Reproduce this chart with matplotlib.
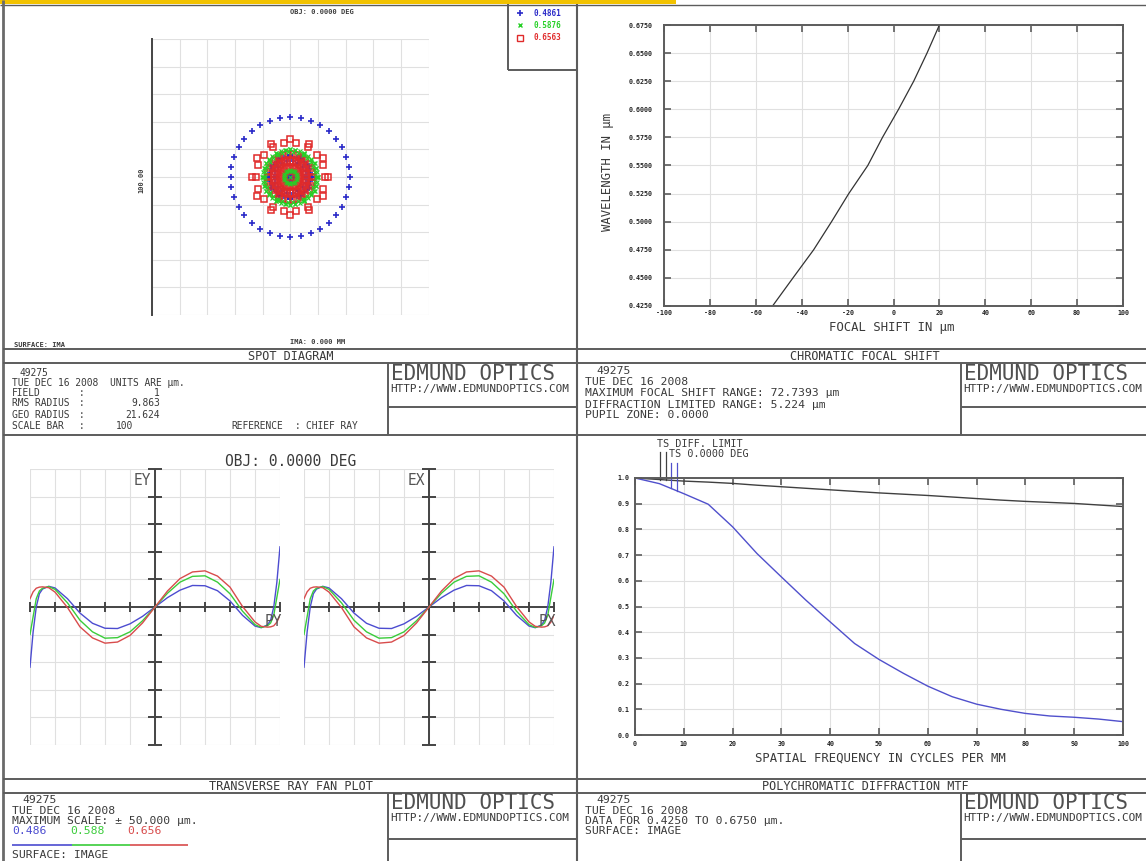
import matplotlib
matplotlib.use('Agg')
import matplotlib.pyplot as plt
import numpy as np
from matplotlib.patches import Rectangle

W, H = 1146, 861
MONO = 'DejaVu Sans Mono'
INK = '#3a3a3a'
FRAME = '#5c5c5c'
GRID = '#e0e0e0'
BLUE, GREEN, RED = '#2a2ac8', '#26d026', '#e02a2a'
FAN_BLUE, FAN_GREEN, FAN_RED = '#4c4cd0', '#3acc3a', '#d84c4c'

# --- spot diagram: radius (um) of each hexapolar ring, ring k carries 6k rays
spot_rings = [1, 2, 3, 4, 5, 6]
spot_r_486 = [5.2, 7.9, 5.9, 1.0, 7.4, 21.6]
spot_r_588 = [9.6, 10.2, 9.8, 2.4, 9.2, 10.0]
spot_r_656 = [8.0, 13.8, 12.5, 3.2, 8.2, 5.8]
spot_waves = ['0.4861', '0.5876', '0.6563']

# --- chromatic focal shift
wavelength = [0.425, 0.450, 0.475, 0.500, 0.525, 0.550, 0.575, 0.600, 0.625, 0.650, 0.675]
focal_shift = [-52.7, -43.8, -34.8, -27.0, -19.5, -11.2, -4.8, 2.2, 8.8, 14.6, 20.0]
chrom_xticks = [-100, -80, -60, -40, -20, 0, 20, 40, 60, 80, 100]
chrom_yticks = [0.425, 0.45, 0.475, 0.5, 0.525, 0.55, 0.575, 0.6, 0.625, 0.65, 0.675]

# --- transverse ray fan (um), same for EY and EX on axis
pupil = [-1.0, -0.975, -0.95, -0.925, -0.9, -0.85, -0.8, -0.7, -0.6, -0.5, -0.4, -0.3, -0.2, -0.1, 0.0,
         0.1, 0.2, 0.3, 0.4, 0.5, 0.6, 0.7, 0.8, 0.85, 0.9, 0.925, 0.95, 0.975, 1.0]
fan_486 = [-21.8, -9.0, 0.0, 4.8, 6.5, 7.5, 6.9, 3.0, -2.2, -5.9, -7.7, -7.8, -6.1, -3.4, 0.0,
           3.4, 6.1, 7.8, 7.7, 5.9, 2.2, -3.0, -6.9, -7.5, -6.5, -4.8, 0.0, 9.0, 21.8]
fan_588 = [-10.0, -3.5, 3.0, 5.8, 6.8, 7.4, 6.4, 1.5, -4.8, -9.0, -11.3, -11.1, -9.0, -5.0, 0.0,
           5.0, 9.0, 11.1, 11.3, 9.0, 4.8, -1.5, -6.4, -7.4, -6.8, -5.8, -3.0, 3.5, 10.0]
fan_656 = [3.0, 5.5, 6.8, 7.2, 7.3, 7.0, 5.4, -0.2, -7.2, -11.2, -13.1, -12.7, -10.3, -5.8, 0.0,
           5.8, 10.3, 12.7, 13.1, 11.2, 7.2, 0.2, -5.4, -7.0, -7.3, -7.2, -6.8, -5.5, -3.0]
fan_labels = ['0.486', '0.588', '0.656']

# --- polychromatic MTF
mtf_freq = [0, 5, 10, 15, 20, 25, 30, 35, 40, 45, 50, 55, 60, 65, 70, 75, 80, 85, 90, 95, 100]
mtf_diff = [1.0, 0.994, 0.988, 0.984, 0.979, 0.972, 0.966, 0.960, 0.954, 0.948, 0.942,
            0.937, 0.932, 0.926, 0.920, 0.914, 0.909, 0.905, 0.901, 0.895, 0.889]
mtf_ts = [1.0, 0.978, 0.939, 0.898, 0.81, 0.706, 0.615, 0.525, 0.44, 0.356, 0.294,
          0.24, 0.19, 0.149, 0.120, 0.10, 0.084, 0.074, 0.069, 0.062, 0.052]


def rect(x0, y0, x1, y1):
    return [x0 / W, 1 - y1 / H, (x1 - x0) / W, (y1 - y0) / H]


fig = plt.figure(figsize=(W / 100, H / 100), dpi=100)
fig.patch.set_facecolor('white')
cv = fig.add_axes([0, 0, 1, 1])
cv.set_xlim(0, W)
cv.set_ylim(H, 0)
cv.axis('off')


def line(xs, ys, color=FRAME, lw=1.4):
    cv.plot(xs, ys, color=color, lw=lw, solid_capstyle='butt')


def txt(x, y, s, size=8.2, color=INK, ha='left', **kw):
    cv.text(x, y, s, fontsize=size, family=MONO, color=color, ha=ha, va='center', **kw)


# frame
cv.add_patch(Rectangle((0, 0), 676, 3.5, color='#f2c200', lw=0))
line([0, W], [4.5, 4.5], lw=1.0)
line([3, 3], [0, H], color='#6a6a6a', lw=2.0)
line([577, 577], [4, H], lw=1.5)
for y in (349, 363, 435, 779, 793):
    line([3, W], [y, y])
for x in (388, 961):
    line([x, x], [363, 435])
    line([x, x], [793, H])
line([388, 577], [407, 407])
line([961, W], [407, 407])
line([388, 577], [839, 839])
line([961, W], [839, 839])
line([508, 508], [4, 70])
line([508, 577], [70, 70])

# titles
txt(291, 356, 'SPOT DIAGRAM', 8.6, ha='center')
txt(865, 356, 'CHROMATIC FOCAL SHIFT', 8.6, ha='center')
txt(291, 786, 'TRANSVERSE RAY FAN PLOT', 8.6, ha='center')
txt(865, 786, 'POLYCHROMATIC DIFFRACTION MTF', 8.6, ha='center')

# logo boxes
for x0, y0 in ((390, 374), (963, 374), (390, 803), (963, 803)):
    txt(x0 + 1, y0, 'EDMUND OPTICS', 15, color='#505050')
    txt(x0, y0 + 15, 'HTTP://WWW.EDMUNDOPTICS.COM', 7.9)

# spot info block
ss = 6.9
txt(19, 373, '49275', ss)
txt(12, 383.5, 'TUE DEC 16 2008', ss)
txt(110, 383.5, 'UNITS ARE µm.', ss)
for y, lab, val in ((393.5, 'FIELD', '1'), (403.5, 'RMS RADIUS', '9.863'), (414.5, 'GEO RADIUS', '21.624')):
    txt(12, y, lab, ss)
    txt(79, y, ':', ss)
    txt(160, y, val, ss, ha='right')
txt(12, 426, 'SCALE BAR', ss)
txt(79, 426, ':', ss)
txt(133, 426, '100', ss, ha='right')
txt(231, 426, 'REFERENCE', ss)
txt(295, 426, ':', ss)
txt(306, 426, 'CHIEF RAY', ss)

# chromatic info block
txt(596, 371, '49275')
txt(585, 382, 'TUE DEC 16 2008')
txt(585, 393.5, 'MAXIMUM FOCAL SHIFT RANGE: 72.7393 µm')
txt(585, 404.5, 'DIFFRACTION LIMITED RANGE: 5.224 µm')
txt(585, 415.5, 'PUPIL ZONE: 0.0000')

# ray fan info block
txt(22, 800, '49275')
txt(12, 810.5, 'TUE DEC 16 2008')
txt(12, 821, 'MAXIMUM SCALE: ± 50.000 µm.')
for x0, lab, c in zip((12, 70, 127), fan_labels, (FAN_BLUE, FAN_GREEN, FAN_RED)):
    txt(x0, 831.5, lab, color=c)
for (x0, x1), c in zip(((12, 72), (72, 130), (130, 188)), (FAN_BLUE, FAN_GREEN, FAN_RED)):
    line([x0, x1], [845, 845], color=c, lw=1.2)
txt(12, 855, 'SURFACE: IMAGE')

# mtf info block
txt(596, 800, '49275')
txt(585, 810.5, 'TUE DEC 16 2008')
txt(585, 821, 'DATA FOR 0.4250 TO 0.6750 µm.')
txt(585, 831.5, 'SURFACE: IMAGE')

# ---------------- spot diagram
ax = fig.add_axes(rect(152, 39, 428.5, 315))
ax.set_xlim(-50, 50)
ax.set_ylim(-50, 50)
ax.set_xticks(np.arange(-50, 51, 10))
ax.set_yticks(np.arange(-50, 51, 10))
ax.set_yticks([-50, 50], minor=True)
ax.grid(True, color=GRID, lw=0.8)
ax.set_axisbelow(True)
ax.tick_params(which='major', length=0, labelbottom=False, labelleft=False)
ax.tick_params(which='minor', direction='in', length=5, width=1.4, color='#444444', left=True)
for s in ('top', 'right', 'bottom'):
    ax.spines[s].set_visible(False)
ax.spines['left'].set_color('#444444')
ax.spines['left'].set_linewidth(1.4)
ax.patch.set_alpha(0)


def ring_points(radii):
    xs, ys = [0.0], [0.0]
    for k, r in zip(spot_rings, radii):
        th = 2 * np.pi * np.arange(6 * k) / (6 * k)
        xs.extend(r * np.cos(th))
        ys.extend(r * np.sin(th))
    return xs, ys


x, y = ring_points(spot_r_486)
ax.plot(x, y, ls='none', marker='+', ms=4.5, mew=1.2, color=BLUE)
x, y = ring_points(spot_r_656)
ax.plot(x, y, ls='none', marker='s', ms=4.7, mew=1.1, mfc='none', color=RED)
x, y = ring_points(spot_r_588)
ax.plot(x, y, ls='none', marker='x', ms=2.6, mew=0.8, color=GREEN)

txt(290, 12, 'OBJ: 0.0000 DEG', 5, weight='bold')
txt(290, 342, 'IMA: 0.000 MM', 5, weight='bold')
txt(14, 345, 'SURFACE: IMA', 5, weight='bold')
txt(141, 180, '100.00', 5, weight='bold', rotation=90, ha='center')
cv.plot([520], [13], marker='+', ms=5, mew=1.2, color=BLUE)
cv.plot([520], [25], marker='x', ms=3.5, mew=1.0, color=GREEN)
cv.plot([520], [38], marker='s', ms=4, mew=1.0, mfc='none', color=RED)
for y0, lab, c in zip((13, 25, 38), spot_waves, (BLUE, GREEN, RED)):
    txt(533, y0, lab, 5.5, color=c, weight='bold')


def framed(ax):
    for s in ax.spines.values():
        s.set_color(FRAME)
        s.set_linewidth(1.4)
    ax.grid(True, color=GRID, lw=0.8)
    ax.set_axisbelow(True)
    ax.tick_params(direction='in', length=5, width=1.2, color=FRAME, top=True, right=True,
                   labelsize=4.8, labelcolor='#222222')
    for lab in ax.get_xticklabels() + ax.get_yticklabels():
        lab.set_family(MONO)
        lab.set_weight('bold')


# ---------------- chromatic focal shift
ax = fig.add_axes(rect(664, 25, 1123, 306))
ax.plot(focal_shift, wavelength, color='#333333', lw=0.9)
ax.set_xlim(-100, 100)
ax.set_ylim(0.425, 0.675)
ax.set_xticks(chrom_xticks)
ax.set_xticklabels([str(v) for v in chrom_xticks])
ax.set_yticks(chrom_yticks)
ax.set_yticklabels([f'{v:.4f}' for v in chrom_yticks])
framed(ax)
ax.tick_params(axis='y', pad=8)
ax.tick_params(axis='x', pad=3)
txt(607, 172, 'WAVELENGTH IN µm', 8.8, rotation=90, ha='center')
txt(892, 327, 'FOCAL SHIFT IN µm', 8.8, ha='center')

# ---------------- MTF
ax = fig.add_axes(rect(635, 478, 1123, 735))
ax.plot(mtf_freq, mtf_diff, color='#404040', lw=1.0)
ax.plot(mtf_freq, mtf_ts, color='#5050cc', lw=1.0)
ax.set_xlim(0, 100)
ax.set_ylim(0, 1)
ax.set_xticks(np.arange(0, 101, 10))
ax.set_xticklabels([str(v) for v in range(0, 101, 10)])
ax.set_yticks(np.arange(0, 1.01, 0.1))
ax.set_yticklabels([f'{v / 10:.1f}' for v in range(11)])
framed(ax)
ax.tick_params(pad=4)
for xm in (5.2, 6.3):
    ax.plot([xm, xm], [1.10, np.interp(xm, mtf_freq, mtf_diff)], color='#404040', lw=0.9, clip_on=False)
for xm in (7.4, 8.6):
    ax.plot([xm, xm], [1.06, np.interp(xm, mtf_freq, mtf_ts)], color='#5050cc', lw=0.9, clip_on=False)
txt(657, 444, 'TS DIFF. LIMIT', 7.3)
txt(669, 454, 'TS 0.0000 DEG', 7.3)
txt(880, 758, 'SPATIAL FREQUENCY IN CYCLES PER MM', 8.8, ha='center')

# ---------------- ray fans
txt(291, 461, 'OBJ: 0.0000 DEG', 10.5, ha='center')
for (x0, x1), ylab, xlab in (((30, 280), 'EY', 'PY'), ((304, 554), 'EX', 'PX')):
    ax = fig.add_axes(rect(x0, 469, x1, 745))
    ax.patch.set_alpha(0)
    ax.set_xlim(-1, 1)
    ax.set_ylim(-50, 50)
    xt = np.linspace(-1, 1, 11)
    yt = np.arange(-50, 51, 10)
    ax.set_xticks(xt)
    ax.set_yticks(yt)
    ax.grid(True, color=GRID, lw=0.8)
    ax.set_axisbelow(True)
    ax.tick_params(length=0, labelbottom=False, labelleft=False)
    for s in ax.spines.values():
        s.set_visible(False)
    ax.axhline(0, color='#444444', lw=1.4)
    ax.axvline(0, color='#444444', lw=1.4)
    ax.plot(np.zeros(len(yt)), yt, ls='none', marker='_', ms=10, mew=1.4, color='#444444', clip_on=False)
    ax.plot(xt, np.zeros(len(xt)), ls='none', marker='|', ms=7, mew=1.4, color='#444444', clip_on=False)
    ax.plot(pupil, fan_486, color=FAN_BLUE, lw=1.0)
    ax.plot(pupil, fan_588, color=FAN_GREEN, lw=1.0)
    ax.plot(pupil, fan_656, color=FAN_RED, lw=1.0)
    ax.text(-0.03, 0.985, ylab, transform=ax.get_xaxis_transform(),
            fontsize=10.5, family=MONO, color='#555555', ha='right', va='top')
    ax.text(0.94, -2.5, xlab, transform=ax.get_yaxis_transform(), fontsize=10.5, family=MONO,
            color='#555555', ha='left', va='top')

fig.savefig('out.png', dpi=100)
